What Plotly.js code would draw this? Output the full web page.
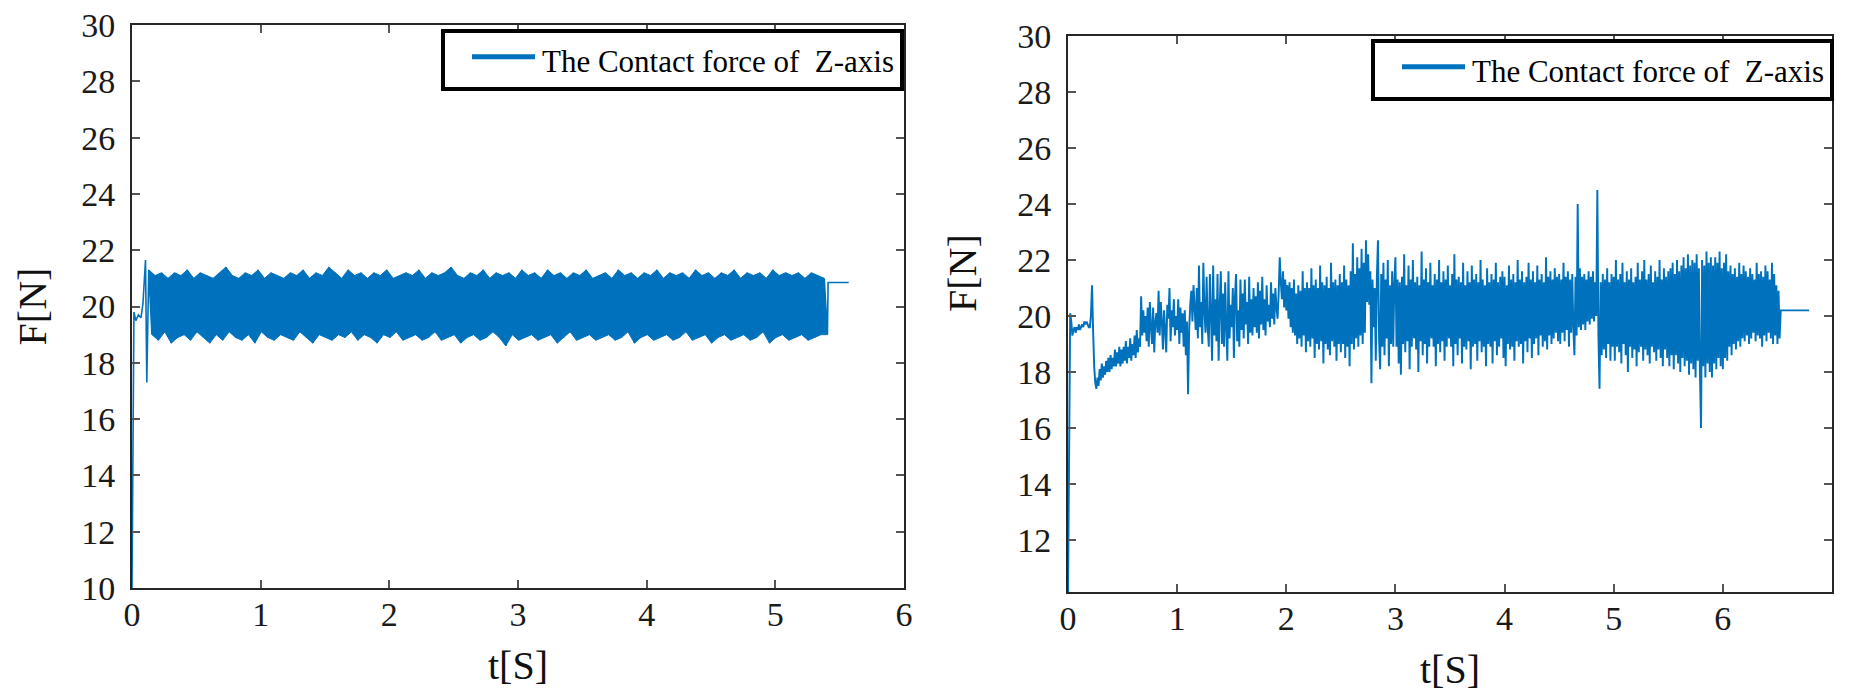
<!DOCTYPE html>
<html>
<head>
<meta charset="utf-8">
<script src="https://cdn.plot.ly/plotly-3.0.1.min.js"></script>
<style>html,body{margin:0;padding:0;background:#fff;}#chart{width:1865px;height:695px;}</style>
</head>
<body>
<div id="chart"></div>
<script>
// ---------- Data ----------
const seriesName = "The Contact force of\u00a0 Z-axis";
const xTitle = "t[S]";
const yTitle = "F[N]";

// Left plot: start-up transient
const leftTransT = [0, 0.008, 0.015, 0.03, 0.05, 0.07, 0.085, 0.105, 0.115];
const leftTransF = [10.0, 15.5, 19.8, 19.5, 19.7, 19.6, 20.1, 21.65, 17.3];
// Left plot: dense oscillation, alternating peak / trough samples
const leftBandStart = 0.13;
const leftBandStep = 0.025;
const leftBandF = [
  21.3,19.0, 21.1,18.8, 21.2,19.1, 21.0,18.7, 21.2,18.9, 21.1,19.0, 21.3,18.8, 21.0,19.1, 21.2,18.9, 21.1,18.7,
  21.0,19.0, 21.2,18.8, 21.4,19.1, 21.1,18.9, 21.0,18.8, 21.2,19.0, 21.1,18.7, 21.3,19.1, 21.0,18.9, 21.2,18.8,
  21.1,19.0, 21.0,18.9, 21.2,18.8, 21.1,19.1, 21.3,18.9, 21.0,18.7, 21.2,19.0, 21.1,18.9, 21.4,18.8, 21.2,19.0,
  21.0,18.9, 21.3,19.1, 21.1,18.8, 21.2,19.0, 21.0,18.9, 21.2,18.7, 21.1,19.0, 21.3,18.9, 21.0,19.1, 21.1,18.8,
  21.2,18.9, 21.1,19.0, 21.3,18.8, 21.0,18.9, 21.2,19.1, 21.1,18.8, 21.2,18.9, 21.4,19.0, 21.1,18.7, 21.0,18.9,
  21.2,19.0, 21.1,18.8, 21.3,18.9, 21.0,19.1, 21.2,18.9, 21.1,18.6, 21.2,19.0, 21.0,18.8, 21.3,18.9, 21.1,19.0,
  21.2,18.8, 21.0,18.9, 21.3,19.0, 21.1,18.7, 21.2,18.9, 21.0,19.1, 21.2,18.8, 21.1,18.9, 21.3,19.0, 21.0,18.8,
  21.1,18.9, 21.2,19.0, 21.0,18.8, 21.3,18.9, 21.1,19.1, 21.2,18.7, 21.0,18.9, 21.2,19.0, 21.1,18.8, 21.3,18.9,
  21.0,19.0, 21.2,18.8, 21.1,18.9, 21.2,19.1, 21.0,18.8, 21.3,18.9, 21.1,19.0, 21.2,18.7, 21.0,18.9, 21.2,19.0,
  21.1,18.8, 21.3,18.9, 21.0,19.0, 21.2,18.8, 21.1,18.9, 21.2,19.1, 21.0,18.7, 21.3,18.9, 21.1,19.0, 21.2,18.8,
  21.1,18.9, 21.2,19.0, 21.0,18.8, 21.2,18.9, 21.1,19.0, 21.0,19.0
];
// Left plot: hold value after the end
const leftTailT = [5.41, 5.57];
const leftTailF = [20.85, 20.85];

// Right plot: samples every 0.01 s from t = 0
const rightStart = 0;
const rightStep = 0.01;
const rightF = [
  10.1,15.0,20.1,19.8,19.3,19.5,19.6,19.4,19.6,19.5, 19.7,19.5,19.6,19.7,19.6,19.8,19.7,19.8,19.7,19.6,
  19.6,20.0,21.1,19.5,18.2,17.6,17.4,17.8,17.5,18.1, 17.7,18.3,17.8,18.2,17.9,18.4,18.0,18.5,18.0,18.6,
  18.1,18.5,18.2,18.8,18.2,18.7,18.3,18.9,18.2,18.8,
  18.3,18.9,18.4,19.1,18.3,18.9,18.5,19.2,18.4,19.0, 18.6,19.3,18.5,19.5,18.7,19.2,18.9,20.7,19.3,20.2,
  19.4,20.0,19.1,20.3,18.9,20.5,19.6,19.0,20.3,18.7, 19.8,20.1,19.4,20.9,19.3,20.5,19.8,18.8,20.2,19.5,
  18.7,20.4,19.9,21.0,19.1,20.2,19.6,20.6,19.3,20.0,
  19.5,20.6,19.0,20.3,19.4,20.1,18.9,20.2,18.6,19.8, 17.2,19.5,20.4,20.9,19.8,21.1,20.3,19.5,21.0,19.2,
  21.8,19.6,20.5,19.0,21.9,20.2,19.4,21.4,19.6,18.9, 21.5,20.1,18.4,21.8,19.3,20.6,19.1,21.5,18.4,20.3,
  21.6,19.0,20.8,18.9,21.2,19.6,18.4,21.6,19.2,20.4,
  19.6,21.0,18.5,20.7,21.5,19.1,20.2,18.9,21.3,19.5, 20.8,19.2,21.3,19.7,20.5,19.0,21.4,19.4,20.6,19.3,
  21.0,19.6,20.7,19.4,21.2,19.2,20.9,19.7,21.4,19.5, 20.6,19.3,21.1,19.8,20.4,19.6,21.2,19.9,20.8,19.7,
  21.0,20.3,19.9,20.8,22.1,21.2,20.6,21.6,20.3,21.3,
  20.2,21.1,19.9,21.2,19.6,21.0,19.4,21.3,19.3,20.8, 19.0,21.1,19.2,20.9,18.9,21.6,19.3,21.0,18.7,21.2,
  19.1,21.0,18.9,21.7,19.2,21.1,18.5,21.3,19.0,21.0, 18.8,21.8,19.1,21.2,18.3,21.1,19.0,21.4,18.8,21.0,
  18.6,21.9,19.1,21.2,18.9,21.3,18.4,21.1,19.0,21.5,
  18.7,21.2,19.0,21.8,18.5,21.3,18.9,21.1,18.2,21.6, 19.0,22.6,18.8,21.5,19.2,22.1,18.9,21.7,19.3,22.4,
  19.0,21.9,19.4,22.7,20.5,22.2,20.4,21.6,17.6,21.3, 19.6,21.0,18.4,21.4,22.7,19.2,18.1,21.5,18.9,21.9,
  18.6,21.3,19.2,22.0,18.2,21.1,19.0,21.6,18.9,21.2,
  22.1,18.9,21.3,18.3,21.2,17.9,21.4,19.0,22.2,18.7, 21.1,19.1,21.8,18.1,21.3,18.9,22.0,19.2,21.2,18.8,
  21.4,18.0,21.1,19.1,22.3,18.6,21.3,19.0,21.7,18.3, 21.2,18.9,21.9,19.2,21.1,18.9,21.5,18.2,21.3,19.0,
  22.0,18.7,21.2,19.1,21.6,18.4,21.3,18.9,21.8,19.2,
  21.1,18.9,21.5,18.2,22.2,19.0,21.3,18.6,21.4,19.2, 21.2,18.3,21.9,18.9,21.1,18.8,21.6,19.1,21.2,18.1,
  21.8,18.9,21.3,19.0,21.5,18.4,21.2,19.1,22.0,18.7, 21.3,18.9,21.1,18.2,21.7,19.0,21.2,18.9,21.5,18.3,
  21.3,19.1,21.9,18.6,21.2,18.9,21.4,19.2,21.6,18.5,
  21.4,18.2,21.1,19.0,21.8,18.8,21.3,18.9,21.5,18.4, 21.2,19.1,22.0,18.9,21.3,19.0,21.6,18.3,21.2,19.1,
  21.4,18.7,21.9,19.2,21.3,18.5,21.6,19.0,21.2,19.2, 21.8,18.6,21.3,19.3,21.5,18.9,21.2,19.1,22.1,18.8,
  21.4,19.3,21.6,19.0,21.3,19.2,21.7,19.4,21.4,19.1,
  21.5,19.0,21.3,19.4,21.9,19.1,21.4,19.5,21.6,18.9, 21.3,19.4,21.5,19.6,18.6,21.4,19.3,24.0,19.6,21.7,
  19.5,21.4,19.7,21.5,19.5,21.3,19.8,21.6,19.7,21.4, 19.9,21.6,19.8,21.2,20.0,24.5,19.3,17.4,21.2,18.6,
  21.5,18.8,21.3,18.5,21.7,19.0,21.2,18.4,21.5,18.9,
  21.4,18.4,22.0,18.9,21.3,18.7,21.5,18.3,21.9,19.0, 21.2,18.6,21.6,18.0,21.3,18.9,21.7,18.5,21.2,18.8,
  21.4,18.2,21.9,18.7,21.3,18.9,21.6,18.4,22.0,18.8, 21.3,18.6,21.5,18.3,21.8,18.9,21.2,18.7,21.6,18.4,
  21.4,18.8,22.0,18.5,21.3,18.2,21.7,18.8,21.4,18.5,
  21.6,18.2,21.7,18.6,21.9,18.1,21.5,18.6,22.0,18.3, 21.6,18.0,21.8,18.5,22.1,18.2,21.7,18.4,22.2,17.9,
  21.8,18.3,22.0,18.1,21.9,17.8,22.2,18.4,21.7,18.0, 16.0,22.0,18.2,21.8,17.8,22.3,18.3,21.9,18.0,22.1,
  17.8,21.8,18.3,22.1,18.1,21.9,18.5,22.3,18.2,21.7,
  18.1,21.9,18.5,22.2,18.4,21.6,18.9,21.8,18.6,21.5, 19.0,21.7,18.8,21.4,19.1,21.9,18.9,21.5,19.2,21.8,
  19.1,21.6,19.3,21.4,19.0,21.7,19.2,21.5,19.4,21.3, 19.1,21.9,19.3,21.5,19.2,21.6,18.9,21.4,19.3,21.8,
  19.1,21.6,19.4,21.3,19.2,21.9,19.0,21.5,19.3,21.1,
  19.0,20.9,19.2
];
const rightTailT = [6.53, 6.79];
const rightTailF = [20.2, 20.2];

const leftYTicks = [10, 12, 14, 16, 18, 20, 22, 24, 26, 28, 30];
const rightYTicks = [12, 14, 16, 18, 20, 22, 24, 26, 28, 30];
const leftXTicks = [0, 1, 2, 3, 4, 5, 6];
const rightXTicks = [0, 1, 2, 3, 4, 5, 6];

// ---------- Build traces ----------
const blue = '#0072BD';
const leftBandT = leftBandF.map((_, i) => +(leftBandStart + i * leftBandStep).toFixed(4));
const leftPeakT = leftBandT.filter((_, i) => i % 2 === 0);
const leftPeakF = leftBandF.filter((_, i) => i % 2 === 0);
const leftTroughT = leftBandT.filter((_, i) => i % 2 === 1);
const leftTroughF = leftBandF.filter((_, i) => i % 2 === 1);
const leftX = leftTransT.concat(leftBandT, leftTailT);
const leftY = leftTransF.concat(leftBandF, leftTailF);
const rightT = rightF.map((_, i) => +(rightStart + i * rightStep).toFixed(4));
const rightX = rightT.concat(rightTailT);
const rightY = rightF.concat(rightTailF);

const traces = [
  // envelope of the dense left oscillation (filled between peaks and troughs)
  {x: leftPeakT, y: leftPeakF, xaxis: 'x', yaxis: 'y', mode: 'lines', line: {color: blue, width: 1}, showlegend: false, hoverinfo: 'skip'},
  {x: leftTroughT, y: leftTroughF, xaxis: 'x', yaxis: 'y', mode: 'lines', fill: 'tonexty', fillcolor: blue, line: {color: blue, width: 1}, showlegend: false, hoverinfo: 'skip'},
  {x: leftX, y: leftY, xaxis: 'x', yaxis: 'y', mode: 'lines', line: {color: blue, width: 1.6}, showlegend: false, hoverinfo: 'skip'},
  {x: rightX, y: rightY, xaxis: 'x2', yaxis: 'y2', mode: 'lines', line: {color: blue, width: 1.95, simplify: false}, showlegend: false, hoverinfo: 'skip'},
  {x: [null], y: [null], xaxis: 'x', yaxis: 'y', mode: 'lines', name: seriesName, line: {color: blue, width: 5}, legend: 'legend'},
  {x: [null], y: [null], xaxis: 'x2', yaxis: 'y2', mode: 'lines', name: seriesName, line: {color: blue, width: 5}, legend: 'legend2'}
];

const W = 1865, H = 695;
const serif = "'Liberation Serif', 'Times New Roman', serif";
function xax(domain, range, ticks) {
  return {
    domain: domain, range: range, tickvals: ticks, ticktext: ticks.map(String),
    showline: true, linecolor: '#262626', linewidth: 2, mirror: 'ticks',
    ticks: 'inside', ticklen: 8, tickwidth: 2, tickcolor: '#555',
    showgrid: false, zeroline: false,
    tickfont: {family: serif, size: 34, color: '#1a1a1a'},
    ticklabelstandoff: -5,
    title: {text: xTitle, font: {family: serif, size: 40, color: '#111'}, standoff: 19},
    automargin: false
  };
}
function yax(domain, range, ticks, anchor, titleText, standoff) {
  return {
    domain: domain, range: range, tickvals: ticks, ticktext: ticks.map(String),
    showline: true, linecolor: '#262626', linewidth: 2, mirror: 'ticks',
    ticks: 'inside', ticklen: 8, tickwidth: 2, tickcolor: '#555',
    showgrid: false, zeroline: false, anchor: anchor,
    tickfont: {family: serif, size: 34, color: '#1a1a1a'},
    ticklabelstandoff: 8,
    title: {text: titleText, font: {family: serif, size: 40, color: '#111'}, standoff: standoff},
    automargin: false
  };
}

const layout = {
  width: W, height: H,
  margin: {l: 0, r: 0, t: 0, b: 0},
  paper_bgcolor: '#fff', plot_bgcolor: '#fff',
  xaxis: Object.assign(xax([132 / W, 904 / W], [0, 6], leftXTicks), {anchor: 'y'}),
  yaxis: yax([1 - 588 / H, 1 - 25 / H], [10, 30], leftYTicks, 'x', yTitle, 22),
  xaxis2: Object.assign(xax([1068 / W, 1832 / W], [0, 7], rightXTicks), {anchor: 'y2'}),
  yaxis2: yax([1 - 592 / H, 1 - 36 / H], [10.14, 30], rightYTicks, 'x2', '', 0),
  annotations: [{
    text: yTitle, xref: 'paper', yref: 'paper', x: 963 / W, y: 1 - 273 / H,
    xanchor: 'center', yanchor: 'middle', textangle: -90, showarrow: false,
    font: {family: serif, size: 40, color: '#111'}
  }],
  legend: {
    x: 441 / W, y: 1 - 29 / H, xanchor: 'left', yanchor: 'top',
    bgcolor: '#fff', bordercolor: '#000', borderwidth: 4,
    font: {family: serif, size: 31, color: '#000'}, itemwidth: 87
  },
  legend2: {
    x: 1371 / W, y: 1 - 39 / H, xanchor: 'left', yanchor: 'top',
    bgcolor: '#fff', bordercolor: '#000', borderwidth: 4,
    font: {family: serif, size: 31, color: '#000'}, itemwidth: 87
  }
};

Plotly.newPlot('chart', traces, layout, {staticPlot: true, displayModeBar: false}).then(() => {
  // legend line sample: same length and offset as in the reference
  document.querySelectorAll('.legendlines path').forEach(p => p.setAttribute('d', 'M27,-3h63'));
});
</script>
</body>
</html>
